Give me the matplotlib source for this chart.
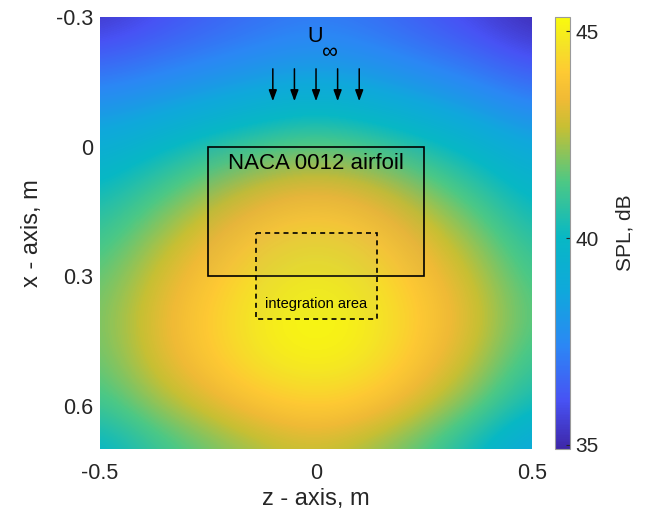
import numpy as np
import matplotlib
matplotlib.use("Agg")
import matplotlib.pyplot as plt
from matplotlib.colors import LinearSegmentedColormap
from matplotlib.patches import Rectangle

plt.rcParams["font.family"] = ["Liberation Sans", "DejaVu Sans"]

# Сетка расчёта: z поперёк потока, x вдоль потока
z_nodes = np.array([-0.5, -0.375, -0.25, -0.125, 0.0, 0.125, 0.25, 0.375, 0.5])
x_nodes = np.array([-0.3, -0.2, -0.1, 0.0, 0.1, 0.2, 0.3, 0.4, 0.5, 0.6, 0.7])

# SPL, dB: строки по x_nodes, столбцы по z_nodes
spl = np.array([
    [35.3, 35.9, 36.4, 36.8, 37.1, 36.8, 36.3, 35.7, 35.0],
    [36.5, 36.9, 37.3, 37.7, 38.0, 37.7, 37.2, 36.7, 36.0],
    [37.8, 38.2, 38.7, 39.2, 39.6, 39.2, 38.6, 38.0, 37.3],
    [39.1, 39.8, 40.6, 41.2, 41.6, 41.2, 40.5, 39.6, 38.7],
    [40.1, 41.1, 42.1, 43.0, 43.4, 43.0, 42.0, 40.9, 39.7],
    [40.9, 42.1, 43.2, 44.1, 44.5, 44.1, 43.1, 41.9, 40.5],
    [41.5, 42.8, 43.8, 44.7, 45.1, 44.7, 43.7, 42.6, 41.1],
    [41.8, 43.1, 44.1, 45.0, 45.35, 45.0, 44.0, 42.9, 41.4],
    [41.6, 42.9, 43.9, 44.8, 45.1, 44.8, 43.7, 42.5, 40.9],
    [41.0, 42.1, 43.0, 43.8, 44.2, 43.8, 42.8, 41.6, 40.1],
    [39.7, 40.8, 41.6, 42.3, 42.7, 42.2, 41.3, 40.0, 38.5],
])
clim = (34.9, 45.35)
cbar_ticks = [35, 40, 45]

# Профиль и область интегрирования (z0, x0, ширина, высота)
airfoil_box = (-0.25, 0.0, 0.5, 0.3)
integr_box = (-0.14, 0.2, 0.28, 0.2)
arrow_z = [-0.1, -0.05, 0.0, 0.05, 0.1]
arrow_x = (-0.18, -0.105)

# parula (приближение по опорным точкам)
parula = LinearSegmentedColormap.from_list("parula", [
    (0.000, (0.2422, 0.1504, 0.6603)),
    (0.111, (0.2810, 0.3228, 0.9579)),
    (0.238, (0.1700, 0.5300, 0.9600)),
    (0.365, (0.0600, 0.6600, 0.8600)),
    (0.490, (0.0300, 0.7200, 0.7700)),
    (0.619, (0.3000, 0.7850, 0.5200)),
    (0.746, (0.7800, 0.7500, 0.2000)),
    (0.810, (0.9400, 0.7300, 0.2100)),
    (0.873, (0.9950, 0.7900, 0.2000)),
    (0.937, (0.9600, 0.8900, 0.1500)),
    (1.000, (0.9763, 0.9831, 0.0538)),
], N=256)

fig = plt.figure(figsize=(6.52, 5.13), dpi=100)
ax = fig.add_axes([0.1534, 0.1248, 0.6626, 0.8421])
cax = fig.add_axes([0.8512, 0.1248, 0.023, 0.8421])

dz = z_nodes[1] - z_nodes[0]
dx = x_nodes[1] - x_nodes[0]
im = ax.imshow(spl, cmap=parula, vmin=clim[0], vmax=clim[1],
               interpolation="bicubic", origin="upper", aspect="equal",
               extent=[z_nodes[0] - dz / 2, z_nodes[-1] + dz / 2,
                       x_nodes[-1] + dx / 2, x_nodes[0] - dx / 2])
ax.set_xlim(-0.5, 0.5)
ax.set_ylim(0.7, -0.3)

ax.add_patch(Rectangle(airfoil_box[:2], airfoil_box[2], airfoil_box[3],
                       facecolor=(0.5, 0.5, 0.5, 0.08), edgecolor="k", lw=1.2))
ax.add_patch(Rectangle(integr_box[:2], integr_box[2], integr_box[3],
                       facecolor=(0.6, 0.6, 0.6, 0.08), edgecolor="k", lw=1.2,
                       ls=(0, (3, 2.5))))
ax.text(0.0, 0.04, "NACA 0012 airfoil", ha="center", va="center", fontsize=16)
ax.text(0.0, 0.365, "integration area", ha="center", va="center", fontsize=10.5)
# U с индексом ∞ (индекс крупный и опущен ниже строки)
ax.text(-0.021, -0.254, "U", ha="left", va="center", fontsize=15.5)
ax.text(0.031, -0.217, "\u221e", ha="center", va="center", fontsize=16)

for z in arrow_z:
    ax.annotate("", xy=(z, arrow_x[1]), xytext=(z, arrow_x[0]),
                arrowprops=dict(arrowstyle="-|>,head_length=0.6,head_width=0.22",
                                color="k", lw=1.1,
                                mutation_scale=11, shrinkA=0, shrinkB=0))

ax.set_xticks([-0.5, 0, 0.5])
ax.set_xticklabels(["-0.5", "0", "0.5"])
ax.set_yticks([-0.3, 0, 0.3, 0.6])
ax.set_yticklabels(["-0.3", "0", "0.3", "0.6"])
ax.tick_params(length=0, labelsize=15.5, colors="#262626")
ax.tick_params(axis="x", pad=10)
ax.tick_params(axis="y", pad=5)
for s in ax.spines.values():
    s.set_visible(False)
ax.set_xlabel("z - axis, m", fontsize=17, color="#262626", labelpad=3)
ax.set_ylabel("x - axis, m", fontsize=17, color="#262626", labelpad=9)

cb = fig.colorbar(im, cax=cax, ticks=cbar_ticks)
cb.outline.set_edgecolor("#9a9a9a")
cb.outline.set_linewidth(0.8)
cax.tick_params(length=3, direction="in", labelsize=15, colors="#262626", pad=4)
cb.set_label("SPL, dB", fontsize=15, color="#262626", labelpad=12)

fig.savefig("out.png", dpi=100)
